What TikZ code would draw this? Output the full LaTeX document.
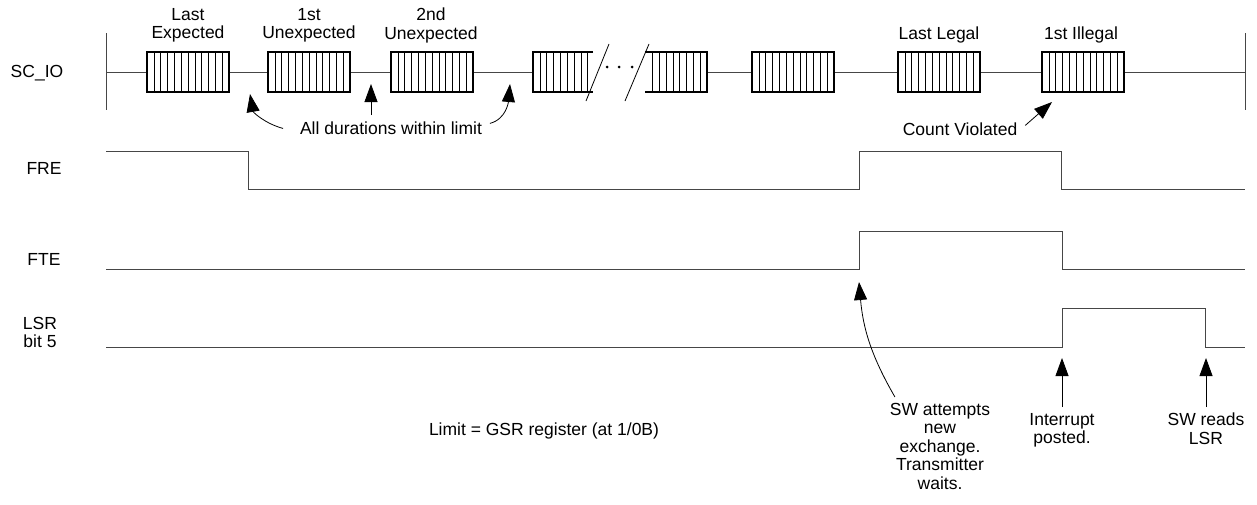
\documentclass[tikz,border=0pt]{standalone}
\usepackage{fontspec}
\setmainfont{Liberation Sans}
\usepackage{tikz}
\usetikzlibrary{
  arrows.meta,
  positioning
}
\definecolor{SigGray}{RGB}{70, 70, 70}
\tikzset{
    lbl/.style={inner sep=0pt, outer sep=0pt, anchor=north, align=center, font=\fontsize{17.5}{18.5}\selectfont},
    sig/.style={draw=SigGray, line width=0.9pt},
    boxline/.style={draw=black, line width=1.3pt},
    stripe/.style={draw=black, line width=0.6pt},
    callout/.style={draw=black, line width=0.8pt, -{Triangle[length=18pt, width=13pt]}},
}
\newcommand{\ByteBox}[1]{%
    \foreach \k in {1,...,11} {\draw[stripe] ({#1+\k*82/12},52) -- ++(0,40);}
    \draw[boxline] (#1,52) rectangle ++(82,40);
}

\begin{document}
\begin{tikzpicture}[x=1pt, y=-1pt]
            \useasboundingbox (0,0) rectangle (1257,504);
            \node[lbl] (scio) at (37,65) {SC\_IO};
            \node[lbl] (fre) at (44,162) {FRE};
            \node[lbl] (fte) at (44,253) {FTE};
            \node[lbl] (lsr) at (40,317) {LSR\\bit 5};

            \draw[sig] (106,33) -- (106,110);
            \draw[sig] (1245,33) -- (1245,110);
            \draw[sig] (106,72) -- (147,72) (229,72) -- (268,72) (350,72) -- (391,72) (473,72) -- (533,72)
                (707,72) -- (752,72) (834,72) -- (898,72) (980,72) -- (1042,72) (1124,72) -- (1245,72);
            \foreach \bx in {147,268,391,752,898,1042} {\ByteBox{\bx}}
            \foreach \k in {1,...,8} {\draw[stripe] ({533+\k*82/12},52) -- ++(0,40);}
            \draw[boxline] (593,52) -- (533,52) -- (533,92) -- (593,92);
            \foreach \k in {1,...,8} {\draw[stripe] ({707-\k*82/12},52) -- ++(0,40);}
            \draw[boxline] (645,52) -- (707,52) -- (707,92) -- (645,92);
            \draw[line width=0.8pt] (586,101) -- (609,44);
            \draw[line width=0.8pt] (625,101) -- (649,44);
            \foreach \dx in {607,619,632} {\fill (\dx,67) circle (1.5pt);}

            \node[lbl] (lastexp) at (188,8) {Last\\Expected};
            \node[lbl] (unexp1) at (309,8) {1st\\Unexpected};
            \node[lbl] (unexp2) at (431,8) {2nd\\Unexpected};
            \node[lbl] (lastlegal) at (939,27) {Last Legal};
            \node[lbl] (illegal) at (1081,27) {1st Illegal};

            \draw[sig] (106,151) -- (248,151) -- (248,189) -- (859,189) -- (859,151) -- (1061,151) -- (1061,189) -- (1245,189);
            \draw[sig] (106,269) -- (859,269) -- (859,231) -- (1062,231) -- (1062,269) -- (1245,269);
            \draw[sig] (106,347) -- (1062,347) -- (1062,308) -- (1205,308) -- (1205,347) -- (1245,347);

            \node[lbl] (dur) at (391,122) {All durations within limit};
            \coordinate (durtipA) at (250,94);
            \coordinate (durtipB) at (371,84);
            \coordinate (durtipC) at (510,84);
            \draw[callout] ([xshift=-17pt]dur.west) to[out=165, in=-80] (durtipA);
            \draw[callout] ([xshift=-20pt, yshift=7pt]dur.north) -- (durtipB);
            \draw[callout] ([xshift=8pt, yshift=5pt]dur.east) to[out=15, in=-95] (durtipC);

            \node[lbl] (cv) at (960,123) {Count Violated};
            \coordinate (cvtip) at (1052,102);
            \draw[callout] ([xshift=8pt, yshift=4pt]cv.east) -- (cvtip);

            \node[lbl] (swa) at (940,403) {SW attempts\\new\\exchange.\\Transmitter\\waits.};
            \coordinate (swatip) at (859,282);
            \draw[callout] ([xshift=5pt, yshift=6pt]swa.north west) to[out=120, in=-85] (swatip);

            \node[lbl] (intr) at (1062,413) {Interrupt\\posted.};
            \node[lbl] (swr) at (1206,413) {SW reads\\LSR};
            \coordinate (intrtip) at (1062,358);
            \coordinate (swrtip) at (1206,358);
            \draw[callout] ([yshift=6pt]intr.north) -- (intrtip);
            \draw[callout] ([yshift=6pt]swr.north) -- (swrtip);

            \node[lbl] (limit) at (544,423) {Limit = GSR register (at 1/0B)};
        \end{tikzpicture}
\end{document}
